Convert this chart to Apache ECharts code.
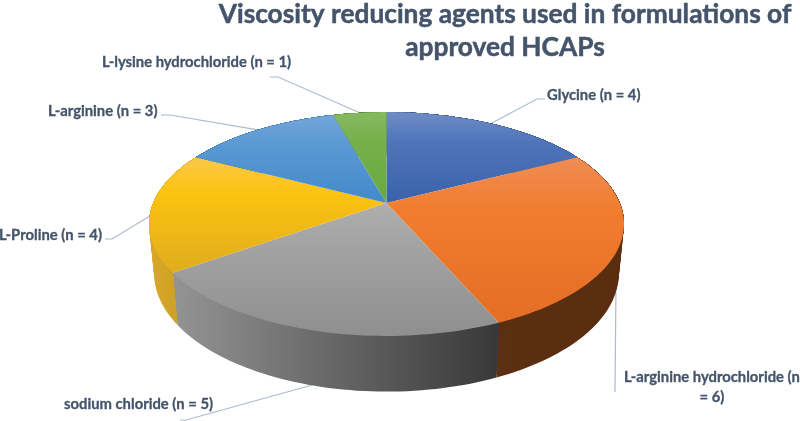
<!DOCTYPE html>
<html><head><meta charset="utf-8">
<style>html,body{margin:0;padding:0;background:#fff;overflow:hidden}#c{width:800px;height:421px}</style>
<script src="https://cdn.jsdelivr.net/npm/echarts@6/dist/echarts.min.js"></script>
</head><body><div id="c"></div>
<script>
const titleLines = ['Viscosity reducing agents used in formulations of', 'approved HCAPs'];
const categories = ['Glycine', 'L-arginine hydrochloride', 'sodium chloride', 'L-Proline', 'L-arginine', 'L-lysine hydrochloride'];
const counts = [4, 6, 5, 4, 3, 1];

const topColors = [
  ['#6f8dc7', '#4f75b9', '#3a62ac'], ['#ee8d55', '#f27c2e', '#e36e25'], ['#aeaeae', '#a3a3a3', '#8f8f8f'],
  ['#fbc84a', '#fcc30f', '#dfac1e'], ['#75a6da', '#5b9ad3', '#4389cb'], ['#86b960', '#76b04c', '#68a840']
];
const sideColors = [
  ['#2f4f86', '#2f4f86'], ['#5c2e12', '#5a2c10'], ['#949494', '#383838'],
  ['#d9a827', '#c59a2a'], ['#2f6ea5', '#2f6ea5'], ['#4f8232', '#4f8232']
];
const labelSpec = [
  {text: 'Glycine (n = 4)', at: [547, 95], align: 'left', elbow: [[545, 99], [537, 99]], rim: 0},
  {text: 'L-arginine hydrochloride (n\n= 6)', at: [712, 387], align: 'center', elbow: [[615, 392]], rim: 1},
  {text: 'sodium chloride (n = 5)', at: [64, 404], align: 'left', elbow: [[180, 420], [186, 420]], rim: 1},
  {text: 'L-Proline (n = 4)', at: [102, 235], align: 'right', elbow: [[105, 239], [112, 239]], rim: 0.1},
  {text: 'L-arginine (n = 3)', at: [48, 111], align: 'left', elbow: [[161, 115], [170, 115]], rim: 0},
  {text: 'L-lysine hydrochloride (n = 1)', at: [102, 62], align: 'left', elbow: [[270, 77], [278, 77]], rim: 0}
];

const FONT = 'Lato, Carlito, "Open Sans", sans-serif';
const persp = 0.1875;
const rims = [
  {cx: 386.5, cy: 203, rx: 233.3, ry: 108},
  {cx: 386.5, cy: 251.3, rx: 228.2, ry: 114}
];
function project(frac, rim) {
  const a = frac * Math.PI * 2, u = Math.sin(a), v = -Math.cos(a), w = 1 - persp * v;
  const g = rims[0], b = rims[1];
  const mix = (p, q) => p + (q - p) * rim;
  return [mix(g.cx, b.cx) + mix(g.rx, b.rx) * u / w, mix(g.cy, b.cy) + mix(g.ry, b.ry) * v / w];
}
const total = counts.reduce((s, x) => s + x, 0);
function span(i) {
  let s = 0;
  for (let k = 0; k < i; k++) s += counts[k];
  return [s / total, (s + counts[i]) / total];
}
function arc(a, b, rim) {
  const n = Math.max(8, Math.ceil((b - a) * 240)), pts = [];
  for (let k = 0; k <= n; k++) pts.push(project(a + (b - a) * k / n, rim));
  return pts;
}
function grad(x0, y0, x1, y1, c) {
  return new echarts.graphic.LinearGradient(x0, y0, x1, y1,
    c.map((col, k) => ({offset: c.length === 3 ? [0, 0.32, 1][k] : k, color: col})), true);
}
function bbox(pts) {
  const xs = pts.map(p => p[0]), ys = pts.map(p => p[1]);
  return [Math.min(...xs), Math.min(...ys), Math.max(...xs), Math.max(...ys)];
}
const seriesData = categories.map((name, i) => ({name, value: counts[i]}));

function renderLeader(params) {
  const i = params.dataIndex, sp = span(i), sl = labelSpec[i];
  const end = project((sp[0] + sp[1]) / 2, sl.rim);
  return {type: 'polyline', silent: true,
    shape: {points: sl.elbow.concat([end])},
    style: {stroke: '#adbad0', lineWidth: 1.2, fill: null}};
}
function renderSide(params) {
  const i = params.dataIndex, sp = span(i);
  const top = arc(sp[0], sp[1], 0);
  const low = arc(sp[0], sp[1], 1);
  const b = bbox(top.concat(low));
  const fill = grad(b[0], 0, b[2], 0, sideColors[i]);
  const children = [];
  for (let r = 1; r <= 16; r++) {
    children.push({type: 'polygon', silent: true,
      shape: {points: top.concat(arc(sp[0], sp[1], r / 16).reverse())},
      style: {fill}});
  }
  return {type: 'group', children};
}
function renderTop(params) {
  const i = params.dataIndex, sp = span(i);
  const pts = [[rims[0].cx, rims[0].cy]].concat(arc(sp[0], sp[1], 0));
  const b = bbox(pts);
  return {type: 'polygon', silent: true, shape: {points: pts},
    style: {fill: grad(0, b[1], 0, b[3], topColors[i])}};
}
const chart = echarts.init(document.getElementById('c'), null, {renderer: 'canvas'});
chart.setOption({
  animation: false,
  title: {text: titleLines.join('\n'), left: 500, top: -7, textAlign: 'center',
    textStyle: {fontFamily: FONT, fontWeight: 'bold', fontSize: 26.3, color: '#44546a', lineHeight: 33,
      textBorderColor: '#44546a', textBorderWidth: 0.5}},
  series: [
    {type: 'custom', coordinateSystem: 'none', renderItem: renderLeader, data: seriesData, z: 1},
    {type: 'custom', coordinateSystem: 'none', renderItem: renderSide, data: seriesData, z: 2},
    {type: 'custom', coordinateSystem: 'none', renderItem: renderTop, data: seriesData, z: 3}
  ],
  graphic: labelSpec.map(s => ({type: 'text', x: s.at[0], y: s.at[1], z: 5, silent: true,
    style: {text: s.text, fill: '#44546a', stroke: '#44546a', lineWidth: 0.3,
      fontFamily: FONT, fontWeight: 'bold', fontSize: 14.8, textAlign: s.align,
      textVerticalAlign: 'middle', lineHeight: 20}}))
});
</script></body></html>
